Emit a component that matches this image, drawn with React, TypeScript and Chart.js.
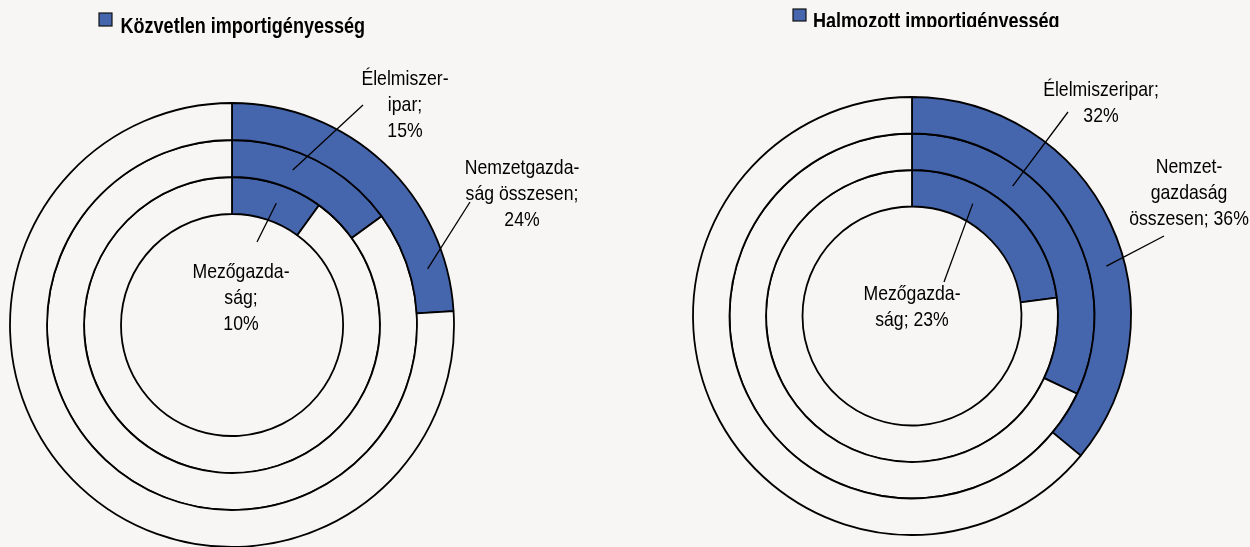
import React, { useEffect, useRef } from "react";
import { Chart, registerables } from "chart.js";

Chart.register(...registerables);

// ---------- data (rings listed outer -> inner) ----------
const ringNames = ["Nemzetgazdaság összesen", "Élelmiszeripar", "Mezőgazdaság"];
const directValues = [24, 15, 10];
const cumulativeValues = [36, 32, 23];
const directTitle = "Közvetlen importigényesség";
const cumulativeTitle = "Halmozott importigényesség";
const directLabelLines = [
  ["Nemzetgazda-", "ság összesen;", "{v}%"],
  ["Élelmiszer-", "ipar;", "{v}%"],
  ["Mezőgazda-", "ság;", "{v}%"],
];
const cumulativeLabelLines = [
  ["Nemzet-", "gazdaság", "összesen; {v}%"],
  ["Élelmiszeripar;", "{v}%"],
  ["Mezőgazda-", "ság; {v}%"],
];

// ---------- styling / layout ----------
const BLUE = "#4565ad";
const BG = "#f7f6f4";
const FONT = '"Liberation Sans", Arial, sans-serif';
const TEXT_SCALE = 0.84;
const TITLE_SCALE = 0.82;

type LabelLayout = { dx: number; dy: number; sx: number; sy: number; angle: number };

const panels = [
  {
    left: 0,
    width: 625,
    padding: { left: 0, right: 161, top: 103, bottom: 0 },
    radius: 222,
    values: directValues,
    lines: directLabelLines,
    title: directTitle,
    titleBox: { x: 99, y: 13, w: 13, h: 13 },
    titleText: { x: 120.5, y: 33 },
    titleClip: null as number | null,
    labels: [
      { dx: 290, dy: -151, sx: 238, sy: -123, angle: 74 },
      { dx: 173, dy: -240, sx: 131, sy: -220, angle: 21.4 },
      { dx: 9, dy: -47, sx: 25, sy: -83, angle: 20 },
    ] as LabelLayout[],
  },
  {
    left: 625,
    width: 625,
    padding: { left: 0, right: 51, top: 85, bottom: 0 },
    radius: 219,
    values: cumulativeValues,
    lines: cumulativeLabelLines,
    title: cumulativeTitle,
    titleBox: { x: 168, y: 9, w: 13, h: 12 },
    titleText: { x: 188, y: 27.5 },
    titleClip: 27 as number | null,
    labels: [
      { dx: 277, dy: -143, sx: 252, sy: -80, angle: 75.6 },
      { dx: 189, dy: -220, sx: 156, sy: -204, angle: 37.8 },
      { dx: 0, dy: -16, sx: 32, sy: -34, angle: 28.4 },
    ] as LabelLayout[],
  },
];

function drawScaledText(ctx: CanvasRenderingContext2D, text: string, x: number, y: number, scale: number) {
  ctx.save();
  ctx.translate(x, y);
  ctx.scale(scale, 1);
  ctx.fillText(text, 0, 0);
  ctx.restore();
}

function makeOverlay(p: (typeof panels)[number]) {
  return {
    id: "overlay",
    afterDraw(chart: any) {
      const ctx: CanvasRenderingContext2D = chart.ctx;
      // title / legend
      ctx.save();
      if (p.titleClip != null) {
        ctx.beginPath();
        ctx.rect(0, 0, chart.width, p.titleClip);
        ctx.clip();
      }
      ctx.fillStyle = BLUE;
      ctx.fillRect(p.titleBox.x, p.titleBox.y, p.titleBox.w, p.titleBox.h);
      ctx.strokeStyle = "#111";
      ctx.lineWidth = 1.2;
      ctx.strokeRect(p.titleBox.x, p.titleBox.y, p.titleBox.w, p.titleBox.h);
      ctx.fillStyle = "#000";
      ctx.font = `bold 22px ${FONT}`;
      ctx.textAlign = "left";
      ctx.textBaseline = "alphabetic";
      drawScaledText(ctx, p.title, p.titleText.x, p.titleText.y, TITLE_SCALE);
      ctx.restore();

      // data labels with leader lines
      p.values.forEach((v, i) => {
        const arc: any = chart.getDatasetMeta(i).data[0];
        if (!arc) return;
        const cx = arc.x;
        const cy = arc.y;
        const rMid = (arc.innerRadius + arc.outerRadius) / 2;
        const L = p.labels[i];
        const a = (L.angle * Math.PI) / 180;
        const ex = cx + rMid * Math.sin(a);
        const ey = cy - rMid * Math.cos(a);
        ctx.save();
        ctx.strokeStyle = "#000";
        ctx.lineWidth = 1.3;
        ctx.beginPath();
        ctx.moveTo(cx + L.sx, cy + L.sy);
        ctx.lineTo(ex, ey);
        ctx.stroke();
        ctx.fillStyle = "#000";
        ctx.font = `21px ${FONT}`;
        ctx.textAlign = "center";
        ctx.textBaseline = "alphabetic";
        p.lines[i].forEach((line, k) => {
          const txt = line.replace("{v}", String(v));
          drawScaledText(ctx, txt, cx + L.dx, cy + L.dy + k * 26, TEXT_SCALE);
        });
        ctx.restore();
      });
    },
  };
}

function DonutPanel({ p }: { p: (typeof panels)[number] }) {
  const ref = useRef<HTMLCanvasElement | null>(null);
  useEffect(() => {
    if (!ref.current) return;
    const chart = new Chart(ref.current, {
      type: "doughnut",
      data: {
        labels: ["importigényesség", "többi"],
        datasets: p.values.map((v, i) => ({
          label: ringNames[i],
          data: [v, 100 - v],
          backgroundColor: [BLUE, BG],
          borderColor: "#000",
          borderWidth: 1.8,
          borderAlign: "center" as const,
        })),
      },
      options: {
        responsive: false,
        animation: false,
        devicePixelRatio: 1,
        radius: p.radius,
        cutout: "50%",
        layout: { padding: p.padding },
        plugins: {
          legend: { display: false },
          tooltip: { enabled: false },
        },
      } as any,
      plugins: [makeOverlay(p)],
    });
    return () => chart.destroy();
  }, [p]);
  return (
    <canvas
      ref={ref}
      width={p.width}
      height={547}
      style={{ position: "absolute", left: p.left, top: 0, width: p.width, height: 547 }}
    />
  );
}

export default function App() {
  return (
    <div
      style={{
        position: "fixed",
        left: 0,
        top: 0,
        width: 1250,
        height: 547,
        background: BG,
        overflow: "hidden",
      }}
    >
      {panels.map((p, i) => (
        <DonutPanel key={i} p={p} />
      ))}
    </div>
  );
}
